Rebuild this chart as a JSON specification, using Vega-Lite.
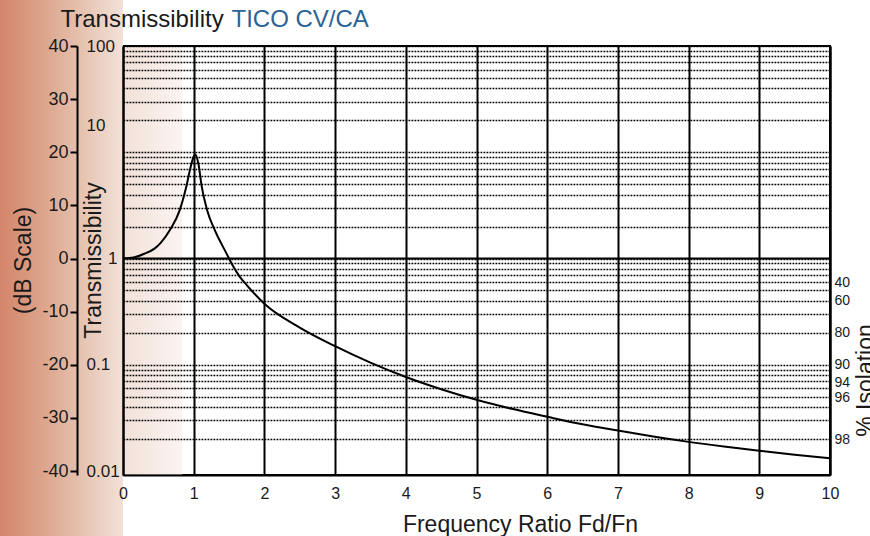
{
  "$schema": "https://vega.github.io/schema/vega-lite/v6.json",
  "width": 707,
  "height": 429,
  "autosize": {"type": "none"},
  "padding": {"left": 123, "top": 46, "right": 40, "bottom": 61},
  "background": "white",
  "config": {
    "font": "Liberation Sans",
    "view": {"stroke": "black", "strokeWidth": 2},
    "axis": {
      "labelFont": "Liberation Sans",
      "titleFont": "Liberation Sans",
      "labelColor": "#1a1a1a",
      "titleColor": "#1a1a1a",
      "titleFontWeight": "normal",
      "domainColor": "black",
      "tickColor": "black",
      "labelOverlap": false,
      "labelBound": false,
      "labelFlush": false
    }
  },
  "datasets": {
    "curve": [
      {"r": 0, "T": 1},
      {"r": 0.15, "T": 1.023},
      {"r": 0.3, "T": 1.109},
      {"r": 0.45, "T": 1.245},
      {"r": 0.53, "T": 1.396},
      {"r": 0.67, "T": 1.884},
      {"r": 0.8, "T": 2.818},
      {"r": 0.895, "T": 4.732},
      {"r": 0.96, "T": 7.413},
      {"r": 1.0, "T": 9.12},
      {"r": 1.022, "T": 9.55},
      {"r": 1.045, "T": 8.913},
      {"r": 1.07, "T": 7.586},
      {"r": 1.11, "T": 4.898},
      {"r": 1.19, "T": 2.851},
      {"r": 1.3, "T": 1.841},
      {"r": 1.45, "T": 1.161},
      {"r": 1.56, "T": 0.841},
      {"r": 1.65, "T": 0.676},
      {"r": 1.75, "T": 0.562},
      {"r": 2.0, "T": 0.3758},
      {"r": 2.5, "T": 0.2239},
      {"r": 3.0, "T": 0.1496},
      {"r": 3.5, "T": 0.1047},
      {"r": 4.0, "T": 0.0767},
      {"r": 4.5, "T": 0.0589},
      {"r": 5.0, "T": 0.0468},
      {"r": 5.5, "T": 0.0385},
      {"r": 6.0, "T": 0.0324},
      {"r": 6.5, "T": 0.0275},
      {"r": 7.0, "T": 0.024},
      {"r": 7.5, "T": 0.0211},
      {"r": 8.0, "T": 0.0188},
      {"r": 8.5, "T": 0.017},
      {"r": 9.0, "T": 0.0155},
      {"r": 9.5, "T": 0.0142},
      {"r": 10.0, "T": 0.0132}
    ],
    "backdrop": [{"x0": -1.75, "x1": 0, "y0": -53, "y1": 49}],
    "plotTint": [{"x0": 0, "x1": 0.84, "y0": -40.7, "y1": 39.8}],
    "unity": [{"T": 1}]
  },
  "resolve": {
    "scale": {"y": "independent"},
    "axis": {"x": "independent", "y": "independent"}
  },
  "layer": [
    {
      "data": {"name": "backdrop"},
      "mark": {
        "type": "rect",
        "fill": {
          "gradient": "linear", "x1": 0, "y1": 0, "x2": 1, "y2": 0,
          "stops": [
            {"offset": 0, "color": "#d3856a"},
            {"offset": 0.35, "color": "#dca48b"},
            {"offset": 0.7, "color": "#e7c6b4"},
            {"offset": 1, "color": "#f2e1d8"}
          ]
        }
      },
      "encoding": {
        "x": {"field": "x0", "type": "quantitative", "scale": {"domain": [0, 10], "nice": false, "zero": false}, "axis": null},
        "x2": {"field": "x1"},
        "y": {
          "field": "y0", "type": "quantitative",
          "scale": {"domain": [-40.75, 40], "nice": false, "zero": false},
          "axis": {
            "zindex": 1,
            "orient": "left", "offset": 46,
            "values": [-40, -30, -20, -10, 0, 10, 20, 30, 40],
            "labelExpr": "datum.value + ''",
            "grid": false, "domain": true, "domainWidth": 2,
            "ticks": true, "tickSize": 7, "tickWidth": 2,
            "labelFontSize": 18, "labelPadding": 2,
            "title": "(dB Scale)", "titleFontSize": 23, "titleAngle": 270,
            "titleX": -54, "titleY": 214, "titleBaseline": "middle", "titleAlign": "center"
          }
        },
        "y2": {"field": "y1"}
      }
    },
    {
      "data": {"name": "plotTint"},
      "mark": {
        "type": "rect",
        "fill": {
          "gradient": "linear", "x1": 0, "y1": 0, "x2": 1, "y2": 0,
          "stops": [
            {"offset": 0, "color": "#f2e1d8"},
            {"offset": 1, "color": "#fbf4f1"}
          ]
        }
      },
      "encoding": {
        "x": {
          "field": "x0", "type": "quantitative",
          "scale": {"domain": [0, 10], "nice": false, "zero": false},
          "axis": {
            "zindex": 1,
            "orient": "top", "domain": false, "ticks": false, "labels": false, "grid": false,
            "title": "Transmissibility", "titleFontSize": 24, "titleAngle": 0,
            "titleAlign": "left", "titleBaseline": "alphabetic",
            "titleX": -63, "titleY": -20, "titleColor": "#1a1a1a"
          }
        },
        "x2": {"field": "x1"},
        "y": {
          "field": "y0", "type": "quantitative",
          "scale": {"domain": [-40.75, 40], "nice": false, "zero": false},
          "axis": {
            "zindex": 1,
            "orient": "left", "domain": false, "ticks": false, "labels": false, "grid": false,
            "title": "TICO CV/CA", "titleFontSize": 24, "titleAngle": 0,
            "titleAlign": "left", "titleBaseline": "alphabetic",
            "titleX": 108, "titleY": -20, "titleColor": "#2a6496"
          }
        },
        "y2": {"field": "y1"}
      }
    },
    {
      "data": {"name": "unity"},
      "mark": {"type": "rule", "color": "black", "strokeWidth": 2},
      "encoding": {
        "y": {
          "field": "T", "type": "quantitative",
          "scale": {"type": "log", "domain": [0.00917, 100], "nice": false},
          "axis": {
            "zindex": 1,
            "orient": "left", "offset": 0,
            "values": [0.01, 0.02, 0.03, 0.04, 0.05, 0.06, 0.07, 0.08, 0.09, 0.1, 0.2, 0.3, 0.4, 0.5, 0.6, 0.7, 0.8, 0.9, 1, 2, 3, 4, 5, 6, 7, 8, 9, 10, 20, 30, 40, 50, 60, 70, 80, 90, 100],
            "labelExpr": "indexof([0.01, 0.1, 1, 10, 100], datum.value) >= 0 ? datum.value + '' : ''",
            "ticks": false, "domain": true, "domainWidth": 2,
            "grid": true, "gridColor": "black", "gridWidth": 1.4, "gridDash": [1.8, 1.2],
            "gridOpacity": {"condition": {"test": "datum.value < 0.015", "value": 0}, "value": 1},
            "labelFontSize": 17,
            "labelAlign": {"condition": {"test": "datum.value == 1", "value": "right"}, "value": "left"},
            "labelPadding": {"condition": {"test": "datum.value == 1", "value": 6}, "value": 37},
            "labelOffset": {"condition": {"test": "datum.value == 10", "value": -27}, "value": 0},
            "title": "Transmissibility", "titleFontSize": 23, "titleAngle": 270,
            "titleX": -30, "titleY": 214, "titleBaseline": "middle", "titleAlign": "center"
          }
        }
      }
    },
    {
      "data": {"name": "curve"},
      "mark": {"type": "line", "color": "black", "strokeWidth": 2, "interpolate": "monotone"},
      "encoding": {
        "x": {
          "field": "r", "type": "quantitative",
          "scale": {"domain": [0, 10], "nice": false, "zero": false},
          "axis": {
            "zindex": 1,
            "orient": "bottom", "values": [0, 1, 2, 3, 4, 5, 6, 7, 8, 9, 10],
            "grid": true, "gridColor": "black", "gridWidth": 2, "gridOpacity": 1,
            "domain": true, "domainWidth": 2, "ticks": false,
            "labelFontSize": 16, "labelPadding": 10,
            "title": "Frequency Ratio Fd/Fn", "titleFontSize": 23,
            "titleX": 397, "titleY": 56, "titleBaseline": "alphabetic", "titleAlign": "center"
          }
        },
        "y": {
          "field": "T", "type": "quantitative",
          "scale": {"type": "log", "domain": [0.00917, 100], "nice": false},
          "axis": {
            "zindex": 1,
            "orient": "right",
            "values": [0.6, 0.4, 0.2, 0.1, 0.06, 0.04, 0.02],
            "labelExpr": "format((1 - datum.value) * 100, '.0f')",
            "ticks": false, "grid": false, "domain": true, "domainWidth": 2,
            "labelFontSize": 14, "labelPadding": 4,
            "labelOffset": {"condition": [{"test": "datum.value == 0.06", "value": -6}, {"test": "datum.value == 0.04", "value": -10}], "value": 0},
            "title": "% Isolation", "titleFontSize": 23, "titleAngle": 270,
            "titleX": 42, "titleY": 334, "titleBaseline": "alphabetic", "titleAlign": "center"
          }
        }
      }
    }
  ]
}
